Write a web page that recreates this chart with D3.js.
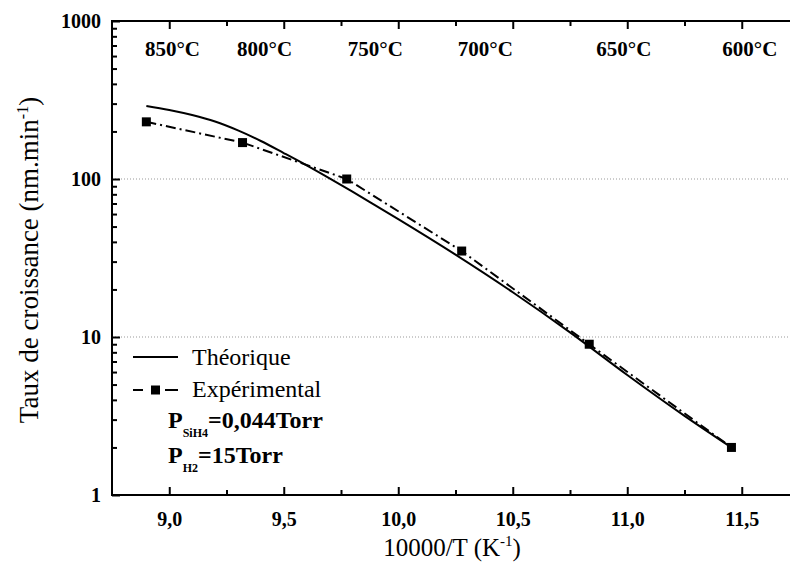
<!DOCTYPE html>
<html>
<head>
<meta charset="utf-8">
<script src="https://cdn.jsdelivr.net/npm/d3@7"></script>
<style>
  body { margin: 0; background: #fff; }
  text { font-family: "Liberation Serif", "Times New Roman", serif; fill: #000; }
</style>
</head>
<body>
<script>
// theoretical curve (10000/T, growth rate nm/min)
var theoX = [8.9, 9.0, 9.1, 9.2, 9.3, 9.4, 9.5, 9.6, 9.7, 9.8, 9.9, 10.0, 10.25, 10.5, 10.75, 11.0, 11.25, 11.455];
var theoY = [290, 273.5, 254, 231, 203, 174, 146, 122, 101, 83.2, 68.1, 55.7, 33.2, 19.2, 10.7, 5.75, 3.17, 2.0];

// experimental points
var expX = [8.90, 9.32, 9.775, 10.277, 10.834, 11.455];
var expY = [230, 170, 100, 35, 9, 2];

// temperature labels along the top
var tempLabels = ["850°C", "800°C", "750°C", "700°C", "650°C", "600°C"];
var tempX = [8.894, 9.296, 9.78, 10.26, 10.865, 11.415];

var xMajor = [9.0, 9.5, 10.0, 10.5, 11.0, 11.5];
var xMinor = [9.25, 9.75, 10.25, 10.75, 11.25];
var yMajor = [1, 10, 100, 1000];

window.onload = function(){
    var width = 790, height = 566;

    var svg = d3.select("body").append("svg")
        .attr("width", width)
        .attr("height", height);

    var x = d3.scaleLinear().domain([8.75, 11.75]).range([112, 799]);
    var y = d3.scaleLog().domain([1, 1000]).range([495, 21]);

    //minor log ticks
    var yMinor = [];
    [1, 10, 100].forEach(function(d){
        for (var k = 2; k < 10; k++) yMinor.push(d * k);
    });

    //dotted grid at 10 and 100
    svg.selectAll(".grid").data([10, 100]).enter().append("line")
        .attr("x1", x(8.75)).attr("x2", x(11.75))
        .attr("y1", function(d){ return y(d); })
        .attr("y2", function(d){ return y(d); })
        .style("stroke", "#999")
        .style("stroke-width", 1)
        .style("stroke-dasharray", "1,2");

    var fmt = function(d){ return d3.format(".1f")(d).replace(".", ","); };

    //bottom axis
    var bottom = svg.append("g").attr("transform", "translate(0," + y(1) + ")")
        .call(d3.axisBottom(x).tickValues(xMajor).tickSize(-8).tickPadding(27).tickFormat(fmt));
    svg.append("g").attr("transform", "translate(0," + y(1) + ")")
        .call(d3.axisBottom(x).tickValues(xMinor).tickSize(-5).tickFormat(""));

    //top axis
    svg.append("g").attr("transform", "translate(0," + y(1000) + ")")
        .call(d3.axisTop(x).tickValues(xMajor).tickSize(-8).tickFormat(""));
    svg.append("g").attr("transform", "translate(0," + y(1000) + ")")
        .call(d3.axisTop(x).tickValues(xMinor).tickSize(-5).tickFormat(""));

    //left axis
    var left = svg.append("g").attr("transform", "translate(" + x(8.75) + ",0)")
        .call(d3.axisLeft(y).tickValues(yMajor).tickSize(-8).tickPadding(11).tickFormat(d3.format("d")));
    svg.append("g").attr("transform", "translate(" + x(8.75) + ",0)")
        .call(d3.axisLeft(y).tickValues(yMinor).tickSize(-5).tickFormat(""));

    svg.selectAll(".domain").remove();
    svg.selectAll(".tick line").style("stroke", "#000").style("stroke-width", 2);
    bottom.selectAll("text").style("font-size", "20px").style("font-weight", "bold")
        .style("font-family", "Liberation Serif").attr("dy", "0.2em");
    left.selectAll("text").style("font-size", "20px").style("font-weight", "bold")
        .style("font-family", "Liberation Serif");

    //frame
    svg.append("rect")
        .attr("x", x(8.75)).attr("y", y(1000))
        .attr("width", x(11.75) - x(8.75))
        .attr("height", y(1) - y(1000))
        .style("fill", "none")
        .style("stroke", "#000")
        .style("stroke-width", 2);

    //theoretical curve
    var theo = theoX.map(function(d, i){ return [d, theoY[i]]; });
    var smooth = d3.line()
        .x(function(d){ return x(d[0]); })
        .y(function(d){ return y(d[1]); })
        .curve(d3.curveMonotoneX);

    svg.append("path").datum(theo)
        .attr("d", smooth)
        .style("fill", "none")
        .style("stroke", "#000")
        .style("stroke-width", 2);

    //experimental curve
    var exp = expX.map(function(d, i){ return [d, expY[i]]; });
    var straight = d3.line()
        .x(function(d){ return x(d[0]); })
        .y(function(d){ return y(d[1]); });

    svg.append("path").datum(exp)
        .attr("d", straight)
        .style("fill", "none")
        .style("stroke", "#000")
        .style("stroke-width", 2)
        .style("stroke-dasharray", "10,4,2,4");

    svg.selectAll(".pt").data(exp).enter().append("rect")
        .attr("x", function(d){ return x(d[0]) - 4.5; })
        .attr("y", function(d){ return y(d[1]) - 4.5; })
        .attr("width", 9).attr("height", 9)
        .style("fill", "#000");

    //temperature labels
    svg.selectAll(".temp").data(tempLabels).enter().append("text")
        .attr("x", function(d, i){ return x(tempX[i]); })
        .attr("y", 56)
        .style("font-size", "21px")
        .style("font-weight", "bold")
        .text(function(d){ return d; });

    //axis titles
    var xt = svg.append("text")
        .attr("x", 452).attr("y", 556)
        .attr("text-anchor", "middle")
        .style("font-size", "25px");
    xt.append("tspan").text("10000/T (K");
    xt.append("tspan").attr("dy", -10).style("font-size", "15px").text("-1");
    xt.append("tspan").attr("dy", 10).text(")");

    var yt = svg.append("text")
        .attr("transform", "translate(38,260) rotate(-90)")
        .attr("text-anchor", "middle")
        .style("font-size", "27px");
    yt.append("tspan").text("Taux de croissance (nm.min");
    yt.append("tspan").attr("dy", -10).style("font-size", "16px").text("-1");
    yt.append("tspan").attr("dy", 10).text(")");

    //legend
    var lg = svg.append("g");
    lg.append("line").attr("x1", 133).attr("x2", 178).attr("y1", 357).attr("y2", 357)
        .style("stroke", "#000").style("stroke-width", 2);
    lg.append("text").attr("x", 192).attr("y", 365).style("font-size", "24px").text("Théorique");

    lg.append("line").attr("x1", 133).attr("x2", 178).attr("y1", 390).attr("y2", 390)
        .style("stroke", "#000").style("stroke-width", 2).style("stroke-dasharray", "10,22,13,10");
    lg.append("rect").attr("x", 151).attr("y", 385.5).attr("width", 9).attr("height", 9)
        .style("fill", "#000");
    lg.append("text").attr("x", 192).attr("y", 397).style("font-size", "24px").text("Expérimental");

    var p1 = lg.append("text").attr("x", 168).attr("y", 428)
        .style("font-size", "24px").style("font-weight", "bold");
    p1.append("tspan").text("P");
    p1.append("tspan").attr("dy", 9).style("font-size", "12px").text("SiH4");
    p1.append("tspan").attr("dy", -9).text("=0,044Torr");

    var p2 = lg.append("text").attr("x", 168).attr("y", 463)
        .style("font-size", "24px").style("font-weight", "bold");
    p2.append("tspan").text("P");
    p2.append("tspan").attr("dy", 9).style("font-size", "12px").text("H2");
    p2.append("tspan").attr("dy", -9).text("=15Torr");
};
</script>
</body>
</html>
